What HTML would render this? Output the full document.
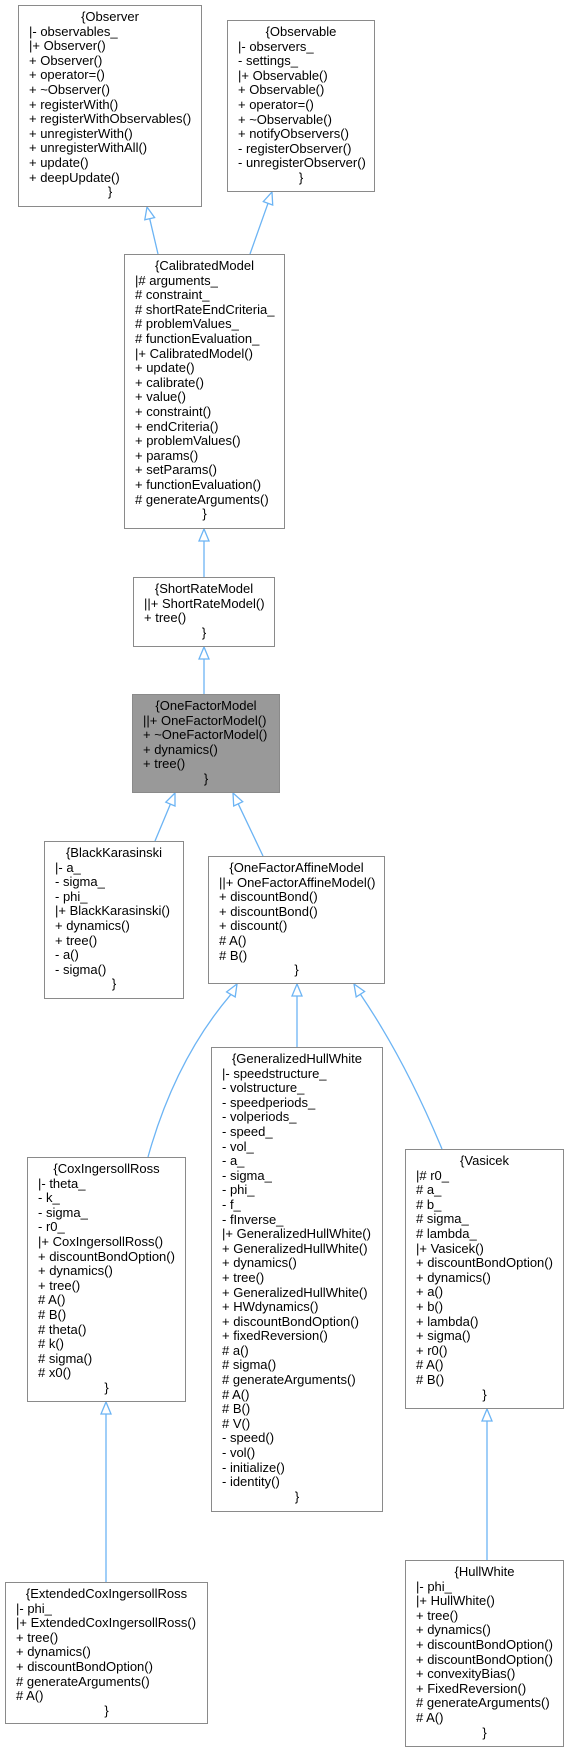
<!DOCTYPE html>
<html><head><meta charset="utf-8"><style>
body{margin:0;width:569px;height:1752px;background:#fff;position:relative;overflow:hidden;font-family:"Liberation Sans",Arial,sans-serif;}
.b{position:absolute;box-sizing:border-box;border:1px solid #8a8a8a;background:#fff;font-size:13px;line-height:14.6px;padding-top:4px;white-space:nowrap;color:#000;}
.b div{padding-left:10px}
.b .c{text-align:center;padding-left:0}
svg{position:absolute;left:0;top:0}
</style></head><body>
<svg width="569" height="1752">
<g stroke="#6cb4f4" stroke-width="1.3" fill="none">
<line x1="149.7" y1="218.7" x2="158" y2="254"/>
<line x1="268" y1="203.3" x2="250" y2="254"/>
<line x1="204" y1="541" x2="204" y2="577"/>
<line x1="204" y1="659" x2="204" y2="694"/>
<line x1="170.4" y1="804.1" x2="155" y2="841"/>
<line x1="238.2" y1="803.8" x2="263" y2="856"/>
<path d="M230.9,994.4 Q175,1060 148,1157"/>
<line x1="297" y1="996" x2="297" y2="1047"/>
<path d="M360.4,994.2 Q405,1060 442,1149"/>
<line x1="106" y1="1414" x2="106" y2="1582"/>
<line x1="487" y1="1421" x2="487" y2="1560"/>
</g>
<g stroke="#6cb4f4" stroke-width="1.3" fill="#fff">
<polygon points="147,207 154.6,217.6 144.8,219.8"/>
<polygon points="272,192 272.7,205 263.3,201.6"/>
<polygon points="204,529 199,541 209,541"/>
<polygon points="204,647 199,659 209,659"/>
<polygon points="175,793 175,806 165.8,802.2"/>
<polygon points="233,793 242.7,801.7 233.7,806"/>
<polygon points="237,984 235.2,996.9 226.6,991.9"/>
<polygon points="297,984 292,996 302,996"/>
<polygon points="354,984 364.6,991.5 356.2,996.9"/>
<polygon points="106,1402 101,1414 111,1414"/>
<polygon points="487,1409 482,1421 492,1421"/>
</g>
</svg>

<div class="b" style="left:18px;top:5px;width:184px;height:202px">
<div class="c">{Observer</div><div>|- observables_</div><div>|+ Observer()</div><div>+ Observer()</div><div>+ operator=()</div><div>+ ~Observer()</div><div>+ registerWith()</div><div>+ registerWithObservables()</div><div>+ unregisterWith()</div><div>+ unregisterWithAll()</div><div>+ update()</div><div>+ deepUpdate()</div><div class="c">}</div>
</div>

<div class="b" style="left:227px;top:20px;width:148px;height:172px">
<div class="c">{Observable</div><div>|- observers_</div><div>- settings_</div><div>|+ Observable()</div><div>+ Observable()</div><div>+ operator=()</div><div>+ ~Observable()</div><div>+ notifyObservers()</div><div>- registerObserver()</div><div>- unregisterObserver()</div><div class="c">}</div>
</div>

<div class="b" style="left:124px;top:254px;width:161px;height:275px">
<div class="c">{CalibratedModel</div><div>|# arguments_</div><div># constraint_</div><div># shortRateEndCriteria_</div><div># problemValues_</div><div># functionEvaluation_</div><div>|+ CalibratedModel()</div><div>+ update()</div><div>+ calibrate()</div><div>+ value()</div><div>+ constraint()</div><div>+ endCriteria()</div><div>+ problemValues()</div><div>+ params()</div><div>+ setParams()</div><div>+ functionEvaluation()</div><div># generateArguments()</div><div class="c">}</div>
</div>

<div class="b" style="left:133px;top:577px;width:142px;height:70px">
<div class="c">{ShortRateModel</div><div>||+ ShortRateModel()</div><div>+ tree()</div><div class="c">}</div>
</div>

<div class="b" style="left:132px;top:694px;width:148px;height:99px;background:#999">
<div class="c">{OneFactorModel</div><div>||+ OneFactorModel()</div><div>+ ~OneFactorModel()</div><div>+ dynamics()</div><div>+ tree()</div><div class="c">}</div>
</div>

<div class="b" style="left:44px;top:841px;width:140px;height:158px">
<div class="c">{BlackKarasinski</div><div>|- a_</div><div>- sigma_</div><div>- phi_</div><div>|+ BlackKarasinski()</div><div>+ dynamics()</div><div>+ tree()</div><div>- a()</div><div>- sigma()</div><div class="c">}</div>
</div>

<div class="b" style="left:208px;top:856px;width:177px;height:128px">
<div class="c">{OneFactorAffineModel</div><div>||+ OneFactorAffineModel()</div><div>+ discountBond()</div><div>+ discountBond()</div><div>+ discount()</div><div># A()</div><div># B()</div><div class="c">}</div>
</div>

<div class="b" style="left:211px;top:1047px;width:172px;height:465px">
<div class="c">{GeneralizedHullWhite</div><div>|- speedstructure_</div><div>- volstructure_</div><div>- speedperiods_</div><div>- volperiods_</div><div>- speed_</div><div>- vol_</div><div>- a_</div><div>- sigma_</div><div>- phi_</div><div>- f_</div><div>- fInverse_</div><div>|+ GeneralizedHullWhite()</div><div>+ GeneralizedHullWhite()</div><div>+ dynamics()</div><div>+ tree()</div><div>+ GeneralizedHullWhite()</div><div>+ HWdynamics()</div><div>+ discountBondOption()</div><div>+ fixedReversion()</div><div># a()</div><div># sigma()</div><div># generateArguments()</div><div># A()</div><div># B()</div><div># V()</div><div>- speed()</div><div>- vol()</div><div>- initialize()</div><div>- identity()</div><div class="c">}</div>
</div>

<div class="b" style="left:27px;top:1157px;width:159px;height:245px">
<div class="c">{CoxIngersollRoss</div><div>|- theta_</div><div>- k_</div><div>- sigma_</div><div>- r0_</div><div>|+ CoxIngersollRoss()</div><div>+ discountBondOption()</div><div>+ dynamics()</div><div>+ tree()</div><div># A()</div><div># B()</div><div># theta()</div><div># k()</div><div># sigma()</div><div># x0()</div><div class="c">}</div>
</div>

<div class="b" style="left:405px;top:1149px;width:159px;height:260px">
<div class="c">{Vasicek</div><div>|# r0_</div><div># a_</div><div># b_</div><div># sigma_</div><div># lambda_</div><div>|+ Vasicek()</div><div>+ discountBondOption()</div><div>+ dynamics()</div><div>+ a()</div><div>+ b()</div><div>+ lambda()</div><div>+ sigma()</div><div>+ r0()</div><div># A()</div><div># B()</div><div class="c">}</div>
</div>

<div class="b" style="left:5px;top:1582px;width:203px;height:142px">
<div class="c">{ExtendedCoxIngersollRoss</div><div>|- phi_</div><div>|+ ExtendedCoxIngersollRoss()</div><div>+ tree()</div><div>+ dynamics()</div><div>+ discountBondOption()</div><div># generateArguments()</div><div># A()</div><div class="c">}</div>
</div>

<div class="b" style="left:405px;top:1560px;width:159px;height:187px">
<div class="c">{HullWhite</div><div>|- phi_</div><div>|+ HullWhite()</div><div>+ tree()</div><div>+ dynamics()</div><div>+ discountBondOption()</div><div>+ discountBondOption()</div><div>+ convexityBias()</div><div>+ FixedReversion()</div><div># generateArguments()</div><div># A()</div><div class="c">}</div>
</div>
</body></html>
